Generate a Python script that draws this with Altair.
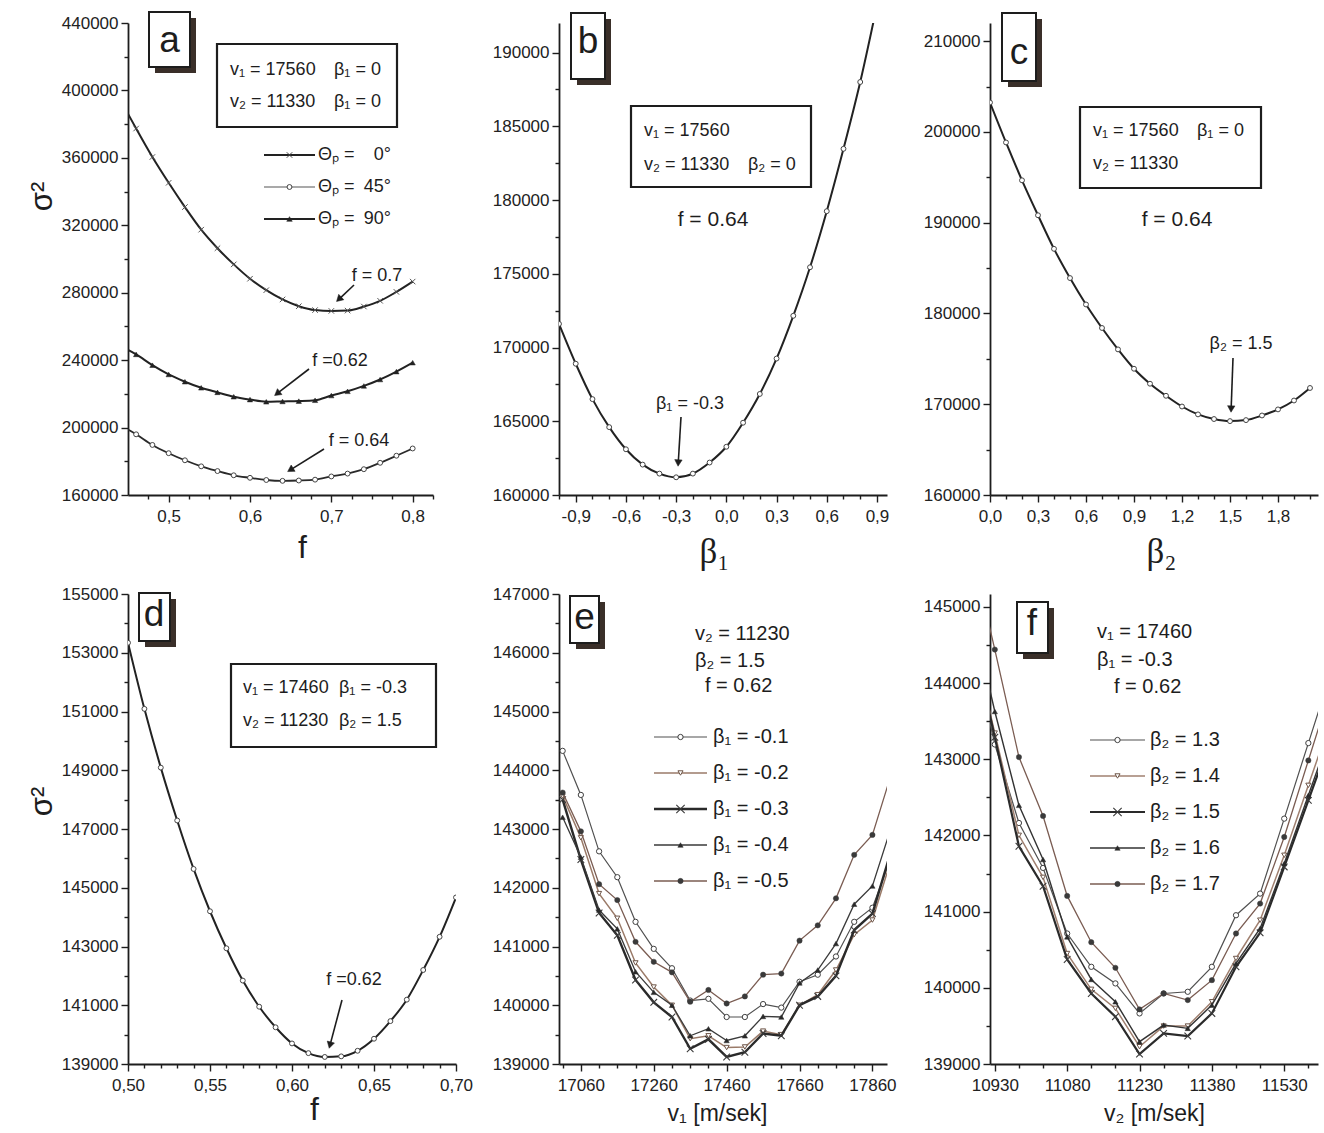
import json
import math

import altair as alt
import pandas as pd

FONT = "Liberation Sans"
SERIF = "Liberation Serif"
INK = "#1d1d1d"

# ---------------------------------------------------------------- data
# (a) sigma^2 against f for three polarisation angles
a_f = [0.44, 0.46, 0.48, 0.50, 0.52, 0.54, 0.56, 0.58, 0.60, 0.62,
       0.64, 0.66, 0.68, 0.70, 0.72, 0.74, 0.76, 0.78, 0.80]
a_theta0 = [395000, 377400, 360500, 345200, 330800, 317400, 306400, 296800, 288300, 281500,
            276000, 272000, 269700, 269200, 269400, 271800, 275200, 280500, 286600]
a_theta45 = [201500, 196000, 189700, 184800, 180600, 177000, 174200, 171700, 170200, 168900,
             168400, 168600, 169100, 171000, 172700, 175300, 179100, 183300, 187600]
a_theta90 = [248500, 243400, 237000, 231500, 227200, 223600, 220900, 218300, 216600, 215300,
             215500, 215700, 216200, 219000, 221500, 224700, 228500, 233200, 238500]

# (b) sigma^2 against beta1
b_beta1 = [-1.0, -0.9, -0.8, -0.7, -0.6, -0.5, -0.4, -0.3, -0.2, -0.1,
           0.0, 0.1, 0.2, 0.3, 0.4, 0.5, 0.6, 0.7, 0.8, 0.9]
b_sigma = [171600, 168900, 166500, 164600, 163100, 162060, 161450, 161200, 161450, 162200,
           163270, 164900, 166850, 169250, 172150, 175440, 179240, 183470, 188000, 193200]

# (c) sigma^2 against beta2
c_beta2 = [0.0, 0.1, 0.2, 0.3, 0.4, 0.5, 0.6, 0.7, 0.8, 0.9, 1.0,
           1.1, 1.2, 1.3, 1.4, 1.5, 1.6, 1.7, 1.8, 1.9, 2.0]
c_sigma = [203240, 198840, 194670, 190820, 187120, 183900, 180990, 178400, 176040, 173910, 172260,
           170930, 169750, 168880, 168370, 168140, 168250, 168760, 169430, 170410, 171790]

# (d) sigma^2 against f
d_f = [0.50, 0.51, 0.52, 0.53, 0.54, 0.55, 0.56, 0.57, 0.58, 0.59, 0.60,
       0.61, 0.62, 0.63, 0.64, 0.65, 0.66, 0.67, 0.68, 0.69, 0.70]
d_sigma = [153340, 151090, 149090, 147290, 145640, 144200, 142940, 141840, 140950, 140250, 139700,
           139370, 139240, 139260, 139450, 139860, 140460, 141190, 142200, 143330, 144670]

# (e) sigma^2 against v1 for five beta1 values
e_v1 = [17010, 17060, 17110, 17160, 17210, 17260, 17310, 17360, 17410, 17460,
        17510, 17560, 17610, 17660, 17710, 17760, 17810, 17860, 17910]
e_b1_01 = [144330, 143580, 142620, 142180, 141420, 140960, 140630, 140080, 140110, 139800,
           139800, 140020, 139960, 140400, 140520, 140830, 141420, 141660, 142500]
e_b1_02 = [143560, 142850, 141900, 141480, 140720, 140310, 140000, 139430, 139480, 139280,
           139290, 139560, 139500, 140000, 140180, 140600, 141200, 141450, 142450]
e_b1_03 = [143500, 142480, 141570, 141190, 140430, 140050, 139800, 139260, 139420, 139120,
           139200, 139520, 139480, 140000, 140150, 140500, 141280, 141560, 142600]
e_b1_04 = [143200, 142520, 141620, 141300, 140570, 140220, 140000, 139480, 139600, 139400,
           139480, 139810, 139800, 140380, 140600, 141050, 141720, 142030, 143000]
e_b1_05 = [143620, 142960, 142060, 141790, 141080, 140740, 140560, 140060, 140260, 140030,
           140150, 140520, 140540, 141100, 141360, 141820, 142560, 142900, 143900]

# (f) sigma^2 against v2 for five beta2 values
f_v2 = [10880, 10930, 10980, 11030, 11080, 11130, 11180, 11230,
        11280, 11330, 11380, 11430, 11480, 11530, 11580, 11630]
f_b2_13 = [144600, 143195, 142164, 141574, 140713, 140276, 140058, 139664,
           139926, 139948, 140276, 140953, 141237, 142221, 143213, 144200]
f_b2_14 = [144700, 143344, 142002, 141450, 140450, 139980, 139730, 139227,
           139498, 139498, 139817, 140385, 140888, 141740, 142658, 143580]
f_b2_15 = [144700, 143290, 141858, 141334, 140372, 139926, 139621, 139131,
           139402, 139367, 139664, 140276, 140722, 141587, 142461, 143340]
f_b2_16 = [145000, 143628, 142396, 141684, 140669, 140110, 139817, 139293,
           139511, 139468, 139773, 140320, 140779, 141631, 142527, 143420]
f_b2_17 = [145800, 144441, 143029, 142256, 141207, 140599, 140263, 139717,
           139926, 139839, 140101, 140713, 141106, 141980, 142985, 143990]

# ---------------------------------------------------------------- helpers
ONE = pd.DataFrame({"k": [0]})
XMARK = "M -1 -1 L 1 1 M -1 1 L 1 -1"


def dec_label(n):
    return ("replace(replace(format(datum.value, '.%df'), '.', ','), '\u2212', '-')" % n)


INT_LABEL = "format(datum.value, 'd')"


def axis_spec(ticks, major, label, title=None, **kw):
    test = "indexof(%s, datum.value) >= 0" % json.dumps(major)
    opts = dict(
        values=ticks,
        labelExpr="%s ? %s : ''" % (test, label),
        tickSize={"condition": {"test": test, "value": 7}, "value": 4},
        labelOverlap=False,
        labelFlush=False,
        title=title,
    )
    opts.update(kw)
    return alt.Axis(**opts)


def scale(lo, hi):
    return alt.Scale(domain=[lo, hi], nice=False, zero=False)


def series(xs, ys, X, Y, line_color, lw, shape, size, fill, stroke, msw=1.0, interp="linear"):
    df = pd.DataFrame({"x": xs, "y": ys})
    base = alt.Chart(df)
    line = base.mark_line(color=line_color, strokeWidth=lw, interpolate=interp, clip=True).encode(x=X, y=Y)
    pts = base.mark_point(shape=shape, size=size, filled=True, fill=fill, stroke=stroke,
                          strokeWidth=msw, opacity=1, clip=True).encode(x=X, y=Y)
    return [line, pts]


def txt(s, x, y, size=18, align="left", font=FONT, color=INK):
    return alt.Chart(ONE).mark_text(text=s, font=font, fontSize=size, align=align,
                                    baseline="middle", color=color).encode(x=alt.value(x), y=alt.value(y))


def rect(x1, y1, x2, y2, fill, stroke="transparent", sw=0.0):
    return alt.Chart(ONE).mark_rect(fill=fill, stroke=stroke, strokeWidth=sw).encode(
        x=alt.value(x1), x2=alt.value(x2), y=alt.value(y1), y2=alt.value(y2))


def seg(x1, y1, x2, y2, color=INK, sw=1.5):
    return alt.Chart(ONE).mark_rule(color=color, strokeWidth=sw).encode(
        x=alt.value(x1), x2=alt.value(x2), y=alt.value(y1), y2=alt.value(y2))


def marker(x, y, shape, size, fill, stroke, msw=1.0, angle=0):
    return alt.Chart(ONE).mark_point(shape=shape, size=size, filled=True, fill=fill, stroke=stroke,
                                     strokeWidth=msw, opacity=1, angle=angle).encode(
        x=alt.value(x), y=alt.value(y))


def arrow(x1, y1, x2, y2):
    dx, dy = x2 - x1, y2 - y1
    n = math.hypot(dx, dy)
    ux, uy = dx / n, dy / n
    ang = math.degrees(math.atan2(dx, -dy)) % 360
    hx, hy = x2 - 4 * ux, y2 - 4 * uy
    return [seg(x1, y1, x2 - 5 * ux, y2 - 5 * uy, INK, 1.6),
            marker(hx, hy, "triangle-up", 55, INK, INK, 0.5, ang)]


def label_box(x1, y1, x2, y2, letter, lx, ly):
    return [rect(x1 + 6, y1 + 6, x2 + 6, y2 + 6, "#3a2f29"),
            rect(x1, y1, x2, y2, "white", INK, 2.0),
            txt(letter, lx, ly, 37, "center")]


def text_box(x1, y1, x2, y2):
    return rect(x1, y1, x2, y2, "white", INK, 2.2)


def legend_row(x1, x2, y, tx, label, line_color, lw, shape, size, fill, stroke, msw, fs):
    return [seg(x1, y, x2, y, line_color, lw),
            marker((x1 + x2) / 2, y, shape, size, fill, stroke, msw),
            txt(label, tx, y, fs)]


def tick_list(k0, k1, step, nd):
    return [round(k * step, nd) for k in range(k0, k1 + 1)]


W_A, W, H1, H2 = 305, 328, 472, 470

# ---------------------------------------------------------------- panel a
ax_ticks = tick_list(19, 33, 0.025, 3)
ax_major = [t for t in ax_ticks if abs(t * 10 - round(t * 10)) < 1e-9]
ay_ticks = list(range(160000, 440001, 20000))
ay_major = [t for t in ay_ticks if t % 40000 == 0]
Xa = alt.X("x:Q", scale=scale(0.45, 0.825),
           axis=axis_spec(ax_ticks, ax_major, dec_label(1), "f", titleX=174, titleY=52,
                          titleFontSize=32, titleAlign="center", titleBaseline="middle"))
Ya = alt.Y("y:Q", scale=scale(160000, 440000),
           axis=axis_spec(ay_ticks, ay_major, INT_LABEL, "σ²", titleX=-86, titleY=173,
                          titleFontSize=31, titleAngle=270, titleAlign="center",
                          titleBaseline="middle"))
layers_a = []
layers_a += series(a_f, a_theta0, Xa, Ya, "#222222", 2.0, XMARK, 30, "transparent", "#555555", 1.0, "monotone")
layers_a += series(a_f, a_theta90, Xa, Ya, "#222222", 2.0, "triangle-up", 28, "#222222", "#222222", 0.5, "monotone")
layers_a += series(a_f, a_theta45, Xa, Ya, "#2a2a2a", 1.8, "circle", 24, "white", "#444444", 1.0, "monotone")
layers_a += label_box(21, -11, 62, 44, "a", 41.5, 18)
layers_a += [text_box(89, 21, 269, 104),
             txt("v\u2081 = 17560", 102, 47), txt("\u03b2\u2081 = 0", 206, 47),
             txt("v\u2082 = 11330", 102, 79), txt("\u03b2\u2081 = 0", 206, 79)]
legend_a = [("0\u00b0", XMARK, 30, "transparent", "#444444", 1.0, "#222222", 2.2),
            ("45\u00b0", "circle", 24, "white", "#444444", 1.0, "#555555", 1.2),
            ("90\u00b0", "triangle-up", 30, "#222222", "#222222", 0.5, "#222222", 1.8)]
for i, (val, shp, sz, fl, st, msw, lc, lw) in enumerate(legend_a):
    y = 132 + 32 * i
    layers_a += [seg(136, y, 187, y, lc, lw), marker(161.5, y, shp, sz, fl, st, msw),
                 txt("\u0398\u209a =", 190, y, 18), txt(val, 263, y, 18, "right")]
layers_a += [txt("f = 0.7", 249, 253, 18, "center")] + arrow(226, 262, 208, 279)
layers_a += [txt("f =0.62", 212, 338, 18, "center")] + arrow(181, 346, 146, 373)
layers_a += [txt("f = 0.64", 231, 418, 18, "center")] + arrow(196, 426, 159, 449)
panel_a = alt.layer(*layers_a).properties(width=W_A, height=H1)

# ---------------------------------------------------------------- panel b
bx_ticks = tick_list(-10, 9, 0.1, 1)
bx_major = [t for t in bx_ticks if int(round(t * 10)) % 3 == 0]
by_ticks = list(range(160000, 190001, 2500))
by_major = [t for t in by_ticks if t % 5000 == 0]
Xb = alt.X("x:Q", scale=scale(-1.0, 0.96),
           axis=axis_spec(bx_ticks, bx_major, dec_label(1), "\u03b2\u2081", titleX=155, titleY=56,
                          titleFont=SERIF, titleFontSize=35, titleAlign="center",
                          titleBaseline="middle"))
Yb = alt.Y("y:Q", scale=scale(160000, 192000), axis=axis_spec(by_ticks, by_major, INT_LABEL))
layers_b = series(b_beta1, b_sigma, Xb, Yb, "#222222", 2.0, "circle", 24, "white", "#444444", 1.0, "monotone")
layers_b += label_box(12, -10, 46, 56, "b", 29, 19)
layers_b += [text_box(72, 83, 252, 164),
             txt("v\u2081 = 17560", 85, 108), txt("v\u2082 = 11330", 85, 142),
             txt("\u03b2\u2082 = 0", 189, 142), txt("f = 0.64", 154, 197, 21, "center")]
layers_b += [txt("\u03b2\u2081 = -0.3", 131, 381, 18, "center")] + arrow(122, 394, 119, 444)
panel_b = alt.layer(*layers_b).properties(width=W, height=H1)

# ---------------------------------------------------------------- panel c
cx_ticks = tick_list(0, 20, 0.1, 1)
cx_major = [t for t in cx_ticks if int(round(t * 10)) % 3 == 0]
cy_ticks = list(range(160000, 210001, 5000))
cy_major = [t for t in cy_ticks if t % 10000 == 0]
Xc = alt.X("x:Q", scale=scale(0.0, 2.05),
           axis=axis_spec(cx_ticks, cx_major, dec_label(1), "\u03b2\u2082", titleX=171, titleY=56,
                          titleFont=SERIF, titleFontSize=35, titleAlign="center",
                          titleBaseline="middle"))
Yc = alt.Y("y:Q", scale=scale(160000, 212000), axis=axis_spec(cy_ticks, cy_major, INT_LABEL))
layers_c = series(c_beta2, c_sigma, Xc, Yc, "#222222", 2.0, "circle", 24, "white", "#444444", 1.0, "monotone")
layers_c += label_box(12, -10, 46, 58, "c", 29, 30)
layers_c += [text_box(90, 84, 271, 165),
             txt("v\u2081 = 17560", 103, 108), txt("\u03b2\u2081 = 0", 207, 108),
             txt("v\u2082 = 11330", 103, 141), txt("f = 0.64", 187, 197, 21, "center")]
layers_c += [txt("\u03b2\u2082 = 1.5", 251, 321, 18, "center")] + arrow(243, 335, 241, 390)
panel_c = alt.layer(*layers_c).properties(width=W, height=H1)

# ---------------------------------------------------------------- panel d
dx_ticks = tick_list(50, 70, 0.01, 2)
dx_major = [t for t in dx_ticks if int(round(t * 100)) % 5 == 0]
dy_ticks = list(range(139000, 155001, 1000))
dy_major = [t for t in dy_ticks if (t - 139000) % 2000 == 0]
Xd = alt.X("x:Q", scale=scale(0.50, 0.70),
           axis=axis_spec(dx_ticks, dx_major, dec_label(2), "f", titleX=186, titleY=45,
                          titleFontSize=32, titleAlign="center", titleBaseline="middle"))
Yd = alt.Y("y:Q", scale=scale(139000, 155000),
           axis=axis_spec(dy_ticks, dy_major, INT_LABEL, "σ²", titleX=-86, titleY=207,
                          titleFontSize=31, titleAngle=270, titleAlign="center",
                          titleBaseline="middle"))
layers_d = series(d_f, d_sigma, Xd, Yd, "#222222", 2.0, "circle", 24, "white", "#444444", 1.0, "monotone")
layers_d += label_box(11, -1, 42, 47, "d", 26, 21)
layers_d += [text_box(103, 70, 308, 153),
             txt("v\u2081 = 17460", 115, 94), txt("\u03b2\u2081 = -0.3", 211, 94),
             txt("v\u2082 = 11230", 115, 127), txt("\u03b2\u2082 =  1.5", 211, 127)]
layers_d += [txt("f =0.62", 226, 386, 18, "center")] + arrow(214, 406, 201, 455)
panel_d = alt.layer(*layers_d).properties(width=W, height=H2)

# ---------------------------------------------------------------- panel e
ex_ticks = list(range(17010, 17861, 50))
ex_major = [t for t in ex_ticks if (t - 17060) % 200 == 0]
ey_ticks = list(range(139000, 147001, 500))
ey_major = [t for t in ey_ticks if t % 1000 == 0]
Xe = alt.X("x:Q", scale=scale(17000, 17900),
           axis=axis_spec(ex_ticks, ex_major, INT_LABEL, "v\u2081 [m/sek]", titleX=158, titleY=49,
                          titleFontSize=23, titleAlign="center", titleBaseline="middle"))
Ye = alt.Y("y:Q", scale=scale(139000, 147000), axis=axis_spec(ey_ticks, ey_major, INT_LABEL))
e_styles = [
    ("\u03b2\u2081 = -0.1", e_b1_01, "#505050", 1.2, "circle", 28, "white", "#404040", 1.0),
    ("\u03b2\u2081 = -0.2", e_b1_02, "#9a7a68", 1.5, "triangle-down", 26, "white", "#6d5548", 1.0),
    ("\u03b2\u2081 = -0.3", e_b1_03, "#2a2a2a", 2.4, XMARK, 44, "transparent", "#3a3a3a", 1.1),
    ("\u03b2\u2081 = -0.4", e_b1_04, "#3a3a3a", 1.3, "triangle-up", 28, "#2a2a2a", "#2a2a2a", 0.5),
    ("\u03b2\u2081 = -0.5", e_b1_05, "#7a5c52", 1.3, "circle", 28, "#3a3a3a", "#3a3a3a", 0.5),
]
layers_e = []
for lab, ys, lc, lw, shp, sz, fl, st, msw in e_styles:
    layers_e += series(e_v1, ys, Xe, Ye, lc, lw, shp, sz, fl, st, msw)
layers_e += label_box(11, 2, 40, 49, "e", 25.5, 24)
layers_e += [txt("v\u2082 = 11230", 136, 40, 20), txt("\u03b2\u2082 = 1.5", 136, 67, 20),
             txt("f = 0.62", 146, 92, 20)]
for i, (lab, ys, lc, lw, shp, sz, fl, st, msw) in enumerate(e_styles):
    y = 143 + 36 * i
    big = 70 if shp == XMARK else sz
    layers_e += legend_row(95, 148, y, 154, lab, lc, lw, shp, big, fl, st, msw, 20)
panel_e = alt.layer(*layers_e).properties(width=W, height=H2)

# ---------------------------------------------------------------- panel f
fx_ticks = list(range(10930, 11581, 50))
fx_major = [t for t in fx_ticks if (t - 10930) % 150 == 0]
fy_ticks = list(range(139000, 145001, 500))
fy_major = [t for t in fy_ticks if t % 1000 == 0]
Xf = alt.X("x:Q", scale=scale(10920, 11600),
           axis=axis_spec(fx_ticks, fx_major, INT_LABEL, "v\u2082 [m/sek]", titleX=164, titleY=49,
                          titleFontSize=23, titleAlign="center", titleBaseline="middle"))
Yf = alt.Y("y:Q", scale=scale(139000, 145170), axis=axis_spec(fy_ticks, fy_major, INT_LABEL))
f_styles = [
    ("\u03b2\u2082 = 1.3", f_b2_13, "#505050", 1.2, "circle", 28, "white", "#404040", 1.0),
    ("\u03b2\u2082 = 1.4", f_b2_14, "#a08070", 1.5, "triangle-down", 26, "white", "#6d5548", 1.0),
    ("\u03b2\u2082 = 1.5", f_b2_15, "#2a2a2a", 2.2, XMARK, 44, "transparent", "#3a3a3a", 1.1),
    ("\u03b2\u2082 = 1.6", f_b2_16, "#333333", 1.4, "triangle-up", 28, "#2a2a2a", "#2a2a2a", 0.5),
    ("\u03b2\u2082 = 1.7", f_b2_17, "#7a5c52", 1.3, "circle", 28, "#3a3a3a", "#3a3a3a", 0.5),
]
layers_f = []
for lab, ys, lc, lw, shp, sz, fl, st, msw in f_styles:
    layers_f += series(f_v2, ys, Xf, Yf, lc, lw, shp, sz, fl, st, msw)
layers_f += label_box(27, 8, 58, 59, "f", 42, 30)
layers_f += [txt("v\u2081 = 17460", 107, 38, 20), txt("\u03b2\u2081 = -0.3", 107, 66, 20),
             txt("f = 0.62", 124, 93, 20)]
for i, (lab, ys, lc, lw, shp, sz, fl, st, msw) in enumerate(f_styles):
    y = 146 + 36 * i
    big = 70 if shp == XMARK else sz
    layers_f += legend_row(100, 155, y, 160, lab, lc, lw, shp, big, fl, st, msw, 20)
panel_f = alt.layer(*layers_f).properties(width=W, height=H2)

# ---------------------------------------------------------------- assemble
chart = alt.concat(
    panel_a, panel_b, panel_c, panel_d, panel_e, panel_f,
    columns=3,
    spacing={"row": 99, "column": 103},
    bounds="flush",
).properties(
    padding={"left": 25, "top": 10, "right": 5, "bottom": 5},
    background="white",
).configure_view(
    stroke="transparent"
).configure_axis(
    grid=False,
    domainColor=INK,
    domainWidth=1.8,
    tickColor=INK,
    tickWidth=1.4,
    labelFont=FONT,
    labelFontSize=17,
    labelColor="#222222",
    titleFont=FONT,
    titleFontWeight="normal",
    titleColor=INK,
).configure_axisX(
    labelPadding=6,
).configure_axisY(
    labelPadding=3,
)

chart.save("out.html", embed_options={"renderer": "svg", "actions": False})
